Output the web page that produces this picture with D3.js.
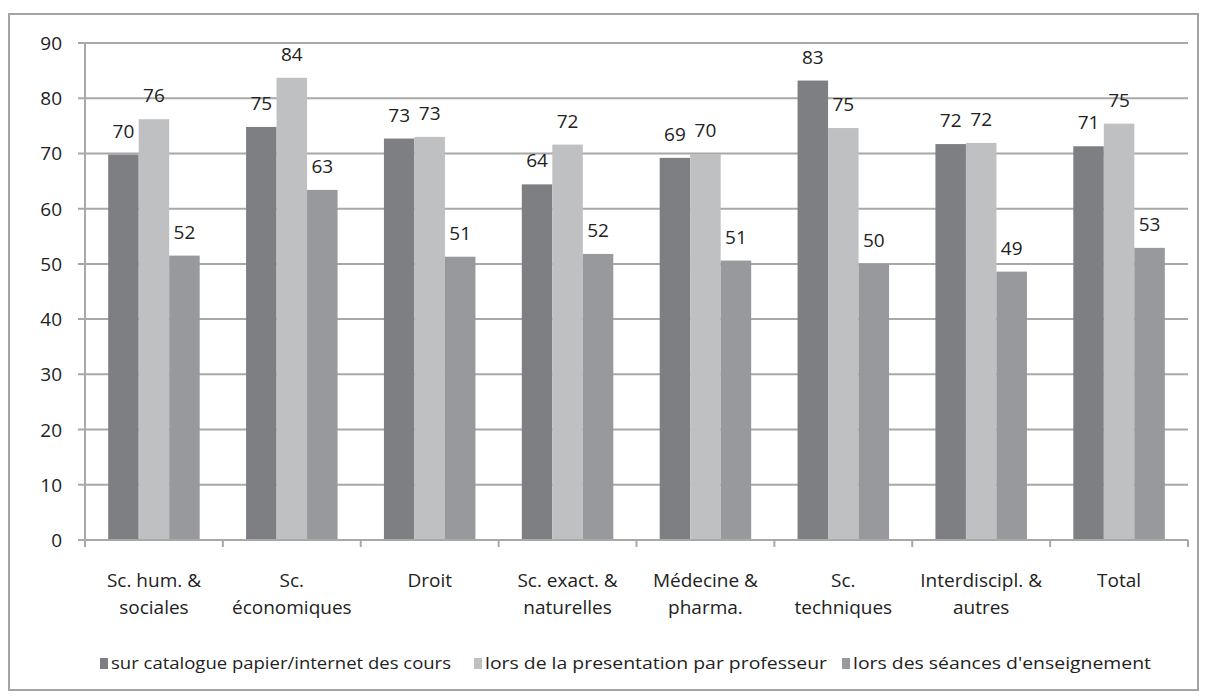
<!DOCTYPE html>
<html><head><meta charset="utf-8">
<script src="https://cdn.jsdelivr.net/npm/d3@7"></script>
<style>body{margin:0;background:#fff}svg{display:block}</style>
</head><body><svg id="c" width="1206" height="700"></svg>
<script>
const categories = [["Sc. hum. &","sociales"],["Sc.","économiques"],["Droit"],["Sc. exact. &","naturelles"],["Médecine &","pharma."],["Sc.","techniques"],["Interdiscipl. &","autres"],["Total"]];
const seriesNames = ["sur catalogue papier/internet des cours","lors de la presentation par professeur","lors des séances d'enseignement"];
const catalogue = [69.8, 74.8, 72.7, 64.4, 69.2, 83.2, 71.7, 71.3];
const presentation = [76.2, 83.7, 73.0, 71.6, 69.9, 74.6, 71.9, 75.4];
const seances = [51.5, 63.4, 51.3, 51.8, 50.6, 50.0, 48.6, 52.9];
const yTicks = [0,10,20,30,40,50,60,70,80,90];
const colors = ["#7e7f83","#bfc0c2","#98999c"];
const series = [catalogue, presentation, seances];

const svg = d3.select("#c");
const font = "'Open Sans', 'DejaVu Sans', sans-serif";
svg.append("rect").attr("x",9).attr("y",14).attr("width",1189).attr("height",676)
  .attr("fill","#fff").attr("stroke","#a3a3a3").attr("stroke-width",2);

const x0 = 85, x1 = 1188, yTop = 43, yBot = 540;
const y = d3.scaleLinear().domain([0,90]).range([yBot,yTop]);
const xb = d3.scaleBand().domain(d3.range(categories.length)).range([x0,x1]).paddingInner(0).paddingOuter(0);
const xs = d3.scaleBand().domain(d3.range(3)).range([0, xb.bandwidth()]).paddingInner(0).paddingOuter(0.76);

// gridlines
svg.append("g").selectAll("line").data(yTicks).join("line")
  .attr("x1",78).attr("x2",x1).attr("y1",d=>y(d)).attr("y2",d=>y(d))
  .attr("stroke","#a8a8a8").attr("stroke-width",2);
// y labels
svg.append("g").selectAll("text").data(yTicks).join("text")
  .attr("x",62).attr("y",d=>y(d)+7).attr("text-anchor","end")
  .attr("font-family",font).attr("font-size",19).attr("fill","#222").text(d=>d);
// y axis line
svg.append("line").attr("x1",x0).attr("x2",x0).attr("y1",yTop).attr("y2",yBot+7).attr("stroke","#a8a8a8").attr("stroke-width",2);

// bars
const g = svg.append("g");
categories.forEach((c,i)=>{
  series.forEach((s,j)=>{
    const bx = xb(i)+xs(j);
    g.append("rect").attr("x",bx).attr("y",y(s[i])).attr("width",xs.bandwidth()).attr("height",y(0)-y(s[i]))
      .attr("fill",colors[j]);
    g.append("text").attr("x",bx+xs.bandwidth()/2).attr("y",y(s[i])-17).attr("text-anchor","middle")
      .attr("font-family",font).attr("font-size",19).attr("fill","#222").text(Math.round(s[i]));
  });
});

// x axis
svg.append("line").attr("x1",78).attr("x2",x1).attr("y1",yBot).attr("y2",yBot).attr("stroke","#a8a8a8").attr("stroke-width",2);
svg.append("g").selectAll("line").data(d3.range(categories.length+1)).join("line")
  .attr("x1",d=>x0+d*xb.bandwidth()).attr("x2",d=>x0+d*xb.bandwidth())
  .attr("y1",yBot).attr("y2",yBot+7).attr("stroke","#a8a8a8").attr("stroke-width",2);
categories.forEach((c,i)=>{
  const cx = xb(i)+xb.bandwidth()/2;
  const t = svg.append("text").attr("x",cx).attr("y",587).attr("text-anchor","middle")
    .attr("font-family",font).attr("font-size",19).attr("fill","#222");
  c.forEach((line,k)=>t.append("tspan").attr("x",cx).attr("dy",k?27:0).text(line));
});

// legend
const legX = [100, 474, 842];
const legW = [340, 342, 298];
seriesNames.forEach((n,j)=>{
  svg.append("rect").attr("x",legX[j]).attr("y",658).attr("width",8).attr("height",11).attr("fill",colors[j]);
  svg.append("text").attr("x",legX[j]+11).attr("y",669).attr("font-family","'Liberation Sans Narrow', 'Open Sans', sans-serif")
    .attr("font-size",17).attr("fill","#222").attr("textLength",legW[j]).attr("lengthAdjust","spacingAndGlyphs").text(n);
});
</script></body></html>
